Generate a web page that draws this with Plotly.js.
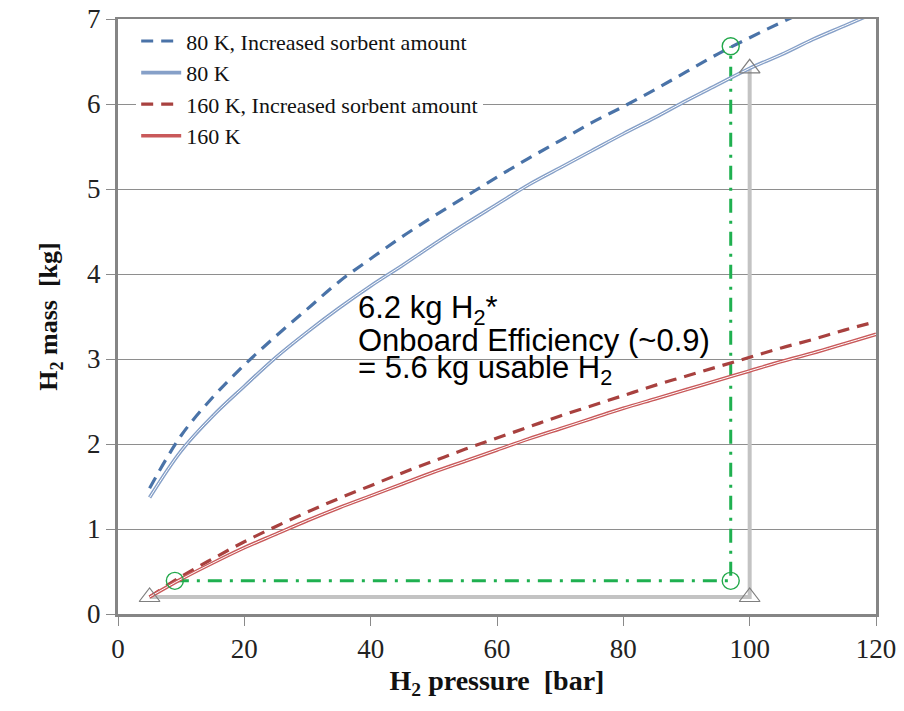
<!DOCTYPE html>
<html>
<head>
<meta charset="utf-8">
<script src="https://cdn.plot.ly/plotly-3.0.1.min.js"></script>
<style>html,body{margin:0;padding:0;background:#fff;}#chart{width:904px;height:711px;}</style>
</head>
<body>
<div id="chart"></div>
<script>
// Pressure grid (bar)
const pressure = [5,10,15,20,25,30,35,40,45,50,55,60,65,70,75,80,85,90,95,100,105,110,115,120];
// H2 mass (kg)
const mass80KIncreased = [1.48,2.10,2.55,2.93,3.27,3.59,3.91,4.18,4.44,4.68,4.91,5.14,5.36,5.57,5.78,5.97,6.17,6.38,6.59,6.78,6.96,7.13,7.30,7.46];
const mass80K          = [1.37,1.92,2.33,2.68,3.02,3.32,3.60,3.86,4.10,4.35,4.59,4.82,5.05,5.25,5.45,5.65,5.84,6.04,6.23,6.42,6.58,6.76,6.92,7.08];
const mass160KIncreased= [0.20,0.44,0.65,0.85,1.03,1.20,1.36,1.51,1.66,1.80,1.94,2.07,2.20,2.33,2.45,2.57,2.69,2.80,2.91,3.02,3.13,3.23,3.34,3.44];
const mass160K         = [0.20,0.41,0.60,0.78,0.94,1.10,1.25,1.39,1.53,1.67,1.80,1.93,2.06,2.18,2.30,2.42,2.53,2.64,2.75,2.86,2.97,3.07,3.18,3.29];
// Operating path markers
const grayPathX = [5,100,100];
const grayPathY = [0.2,0.2,6.42];
const greenPathX = [9,97,97];
const greenPathY = [0.39,0.39,6.68];
const seriesNames = ["80 K, Increased sorbent amount","80 K","160 K, Increased sorbent amount","160 K"];
const xTicks = [0,20,40,60,80,100,120];
const xTickText = ["0","20","40","60","80","100","120"];
const yTicks = [0,1,2,3,4,5,6,7];
const yTickText = ["0","1","2","3","4","5","6","7"];
const noteLines = ["6.2 kg H<sub>2</sub>*","Onboard Efficiency (~0.9)","= 5.6 kg usable H<sub>2</sub>"];
const noteY = [3.58,3.22,2.87];

const serif = "Liberation Serif";
const sans = "Liberation Sans";

const traces = [
  {x: grayPathX, y: grayPathY, mode:'lines', line:{color:'#c3c3c3', width:4}, showlegend:false, hoverinfo:'skip'},
  {x: greenPathX, y: greenPathY, mode:'lines', line:{color:'#1fb050', width:3, dash:'14px,8px,3px,8px'}, showlegend:false, hoverinfo:'skip'},
  {x: pressure, y: mass80KIncreased, name: seriesNames[0], mode:'lines', line:{color:'#4a73a8', width:3.2, dash:'12px,8px', shape:'spline'}},
  {x: pressure, y: mass80K, name: seriesNames[1], mode:'lines', line:{color:'#86a0c8', width:3.6, shape:'spline'}},
  {x: pressure, y: mass80K, mode:'lines', line:{color:'#ffffff', width:1, shape:'spline'}, showlegend:false, hoverinfo:'skip'},
  {x: pressure, y: mass160KIncreased, name: seriesNames[2], mode:'lines', line:{color:'#a8413f', width:3.2, dash:'12px,8px', shape:'spline'}},
  {x: pressure, y: mass160K, name: seriesNames[3], mode:'lines', line:{color:'#c9595a', width:3.6, shape:'spline'}},
  {x: pressure, y: mass160K, mode:'lines', line:{color:'#ffffff', width:1, shape:'spline'}, showlegend:false, hoverinfo:'skip'},
  {x: grayPathX, y: grayPathY, mode:'markers', marker:{symbol:'triangle-up-open', size:18, color:'#7f7f7f', line:{width:1.2}}, showlegend:false, hoverinfo:'skip'},
  {x: greenPathX, y: greenPathY, mode:'markers', marker:{symbol:'circle-open', size:17, color:'#22a84a', line:{width:1.4}}, showlegend:false, hoverinfo:'skip'}
];

const annotations = noteLines.map((t,i)=>({
  x: 37.6, y: noteY[i], xref:'x', yref:'y', text: t, showarrow:false,
  xanchor:'left', yanchor:'middle', align:'left',
  font:{family: sans, size:31, color:'#000'}
}));

const layout = {
  width: 904, height: 711,
  margin:{l:118, r:28, t:19, b:97},
  paper_bgcolor:'#fff', plot_bgcolor:'#fff',
  font:{family: serif, color:'#222', size:22},
  showlegend:true,
  legend:{x:0.024, y:0.998, xanchor:'left', yanchor:'top', bgcolor:'#fff', borderwidth:0,
          font:{family: serif, size:22, color:'#111'}, tracegroupgap:0, itemwidth:40},
  xaxis:{range:[0,120], tickmode:'array', tickvals:xTicks, ticktext:xTickText.map(t=>"<span style='font-family:Liberation Serif'>"+t+"</span>"), ticks:'outside', ticklen:9, tickcolor:'#8a8a8a', tickwidth:1,
         showgrid:false, zeroline:false, showline:true, linecolor:'#858585', linewidth:2.5, mirror:true,
         tickfont:{family: serif, size:27, color:'#222'},
         title:{text:'<b>H<sub>2</sub> pressure  [bar]</b>', font:{family: serif, size:28, color:'#111'}, standoff:8}},
  yaxis:{range:[0,7], tickmode:'array', tickvals:yTicks, ticktext:yTickText, ticks:'outside', ticklen:9, tickcolor:'#8a8a8a', tickwidth:1,
         showgrid:true, gridcolor:'#8e8e8e', gridwidth:1, zeroline:false, showline:true, linecolor:'#858585', linewidth:3, mirror:true,
         tickfont:{family: "Times New Roman", size:27, color:'#222'},
         title:{text:'<b>H<sub>2</sub> mass  [kg]</b>', font:{family: serif, size:26, color:'#111'}, standoff:22}},
  annotations: annotations
};

Plotly.newPlot('chart', traces, layout, {displayModeBar:false, staticPlot:true});
</script>
</body>
</html>
